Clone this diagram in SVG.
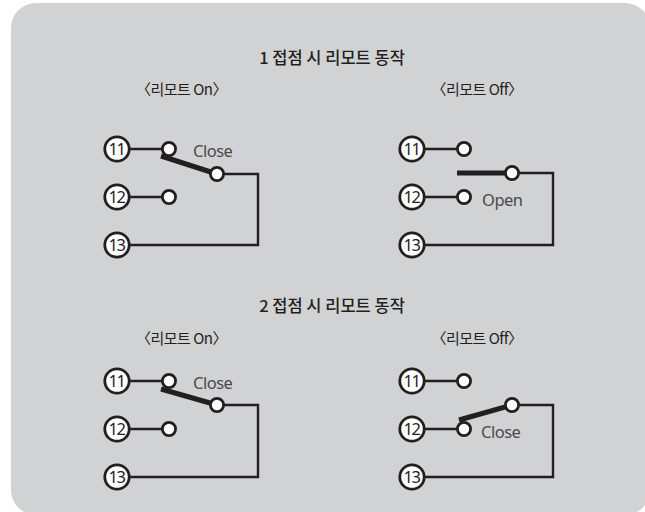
<svg xmlns="http://www.w3.org/2000/svg" width="645" height="512" viewBox="0 0 645 512">
<style>
text{font-family:"Noto Sans CJK KR","Noto Sans",sans-serif;fill:#231f20;text-anchor:middle}
.t{font-size:16.5px;font-weight:500}
.s{font-size:15px;letter-spacing:-.5px}
.l{font-size:16.5px;fill:#4a4a4a;font-family:"Noto Sans",sans-serif;text-anchor:start;letter-spacing:-.5px}
.n{font-size:16.5px;font-family:"Noto Sans",sans-serif;letter-spacing:-1.5px}
.w{fill:none;stroke:#231f20;stroke-width:2.4}
.b{fill:none;stroke:#231f20;stroke-width:5}
.c{fill:#fff;stroke:#231f20;stroke-width:2.8}
</style>
<rect id="background" x="11" y="3" width="639" height="512" rx="25" fill="#d1d2d4"/>
<text class="t" x="332" y="64">1 접점 시 리모트 동작</text>
<text class="s" x="181.500" y="95">〈리모트 On〉</text>
<text class="s" x="477" y="95">〈리모트 Off〉</text>
<text class="t" x="332" y="312">2 접점 시 리모트 동작</text>
<text class="s" x="181.500" y="344">〈리모트 On〉</text>
<text class="s" x="477" y="344">〈리모트 Off〉</text>
<g id="connectors">
<path class="w" d="M130 149H169M130 197H169M217 174H258V245H130"/>
<path class="b" d="M161 156L217 174"/>
<path class="w" d="M425 149H464M425 197H464M512 173H553V245H425"/>
<path class="b" d="M457 173H512"/>
<path class="w" d="M130 381H169M130 429H169M217 405H258V477H130"/>
<path class="b" d="M161 389L217 405"/>
<path class="w" d="M425 381H464M425 429H464M512 405H553V477H425"/>
<path class="b" d="M459 420L512 405"/>
</g>
<g id="panel1-nodes">
<g id="p1-11"><circle class="c" cx="117" cy="149" r="12.200"/><text class="n" x="116.500" y="155">11</text></g>
<g id="p1-12"><circle class="c" cx="117" cy="197" r="12.200"/><text class="n" x="116.500" y="203">12</text></g>
<g id="p1-13"><circle class="c" cx="117" cy="245" r="12.200"/><text class="n" x="116.500" y="251">13</text></g>
<circle id="p1-a" class="c" cx="169" cy="149" r="6.600"/><circle id="p1-b" class="c" cx="169" cy="197" r="6.600"/><circle id="p1-c" class="c" cx="217" cy="174" r="6.600"/>
<text class="l" x="193" y="157">Close</text>
</g>
<g id="panel2-nodes">
<g id="p2-11"><circle class="c" cx="412" cy="149" r="12.200"/><text class="n" x="411.500" y="155">11</text></g>
<g id="p2-12"><circle class="c" cx="412" cy="197" r="12.200"/><text class="n" x="411.500" y="203">12</text></g>
<g id="p2-13"><circle class="c" cx="412" cy="245" r="12.200"/><text class="n" x="411.500" y="251">13</text></g>
<circle id="p2-a" class="c" cx="464" cy="149" r="6.600"/><circle id="p2-b" class="c" cx="464" cy="197" r="6.600"/><circle id="p2-c" class="c" cx="512" cy="173" r="6.600"/>
<text class="l" x="482" y="206">Open</text>
</g>
<g id="panel3-nodes">
<g id="p3-11"><circle class="c" cx="117" cy="381" r="12.200"/><text class="n" x="116.500" y="387">11</text></g>
<g id="p3-12"><circle class="c" cx="117" cy="429" r="12.200"/><text class="n" x="116.500" y="435">12</text></g>
<g id="p3-13"><circle class="c" cx="117" cy="477" r="12.200"/><text class="n" x="116.500" y="483">13</text></g>
<circle id="p3-a" class="c" cx="169" cy="381" r="6.600"/><circle id="p3-b" class="c" cx="169" cy="429" r="6.600"/><circle id="p3-c" class="c" cx="217" cy="405" r="6.600"/>
<text class="l" x="193" y="389">Close</text>
</g>
<g id="panel4-nodes">
<g id="p4-11"><circle class="c" cx="412" cy="381" r="12.200"/><text class="n" x="411.500" y="387">11</text></g>
<g id="p4-12"><circle class="c" cx="412" cy="429" r="12.200"/><text class="n" x="411.500" y="435">12</text></g>
<g id="p4-13"><circle class="c" cx="412" cy="477" r="12.200"/><text class="n" x="411.500" y="483">13</text></g>
<circle id="p4-a" class="c" cx="464" cy="381" r="6.600"/><circle id="p4-b" class="c" cx="464" cy="429" r="6.600"/><circle id="p4-c" class="c" cx="512" cy="405" r="6.600"/>
<text class="l" x="481" y="438">Close</text>
</g>
</svg>
